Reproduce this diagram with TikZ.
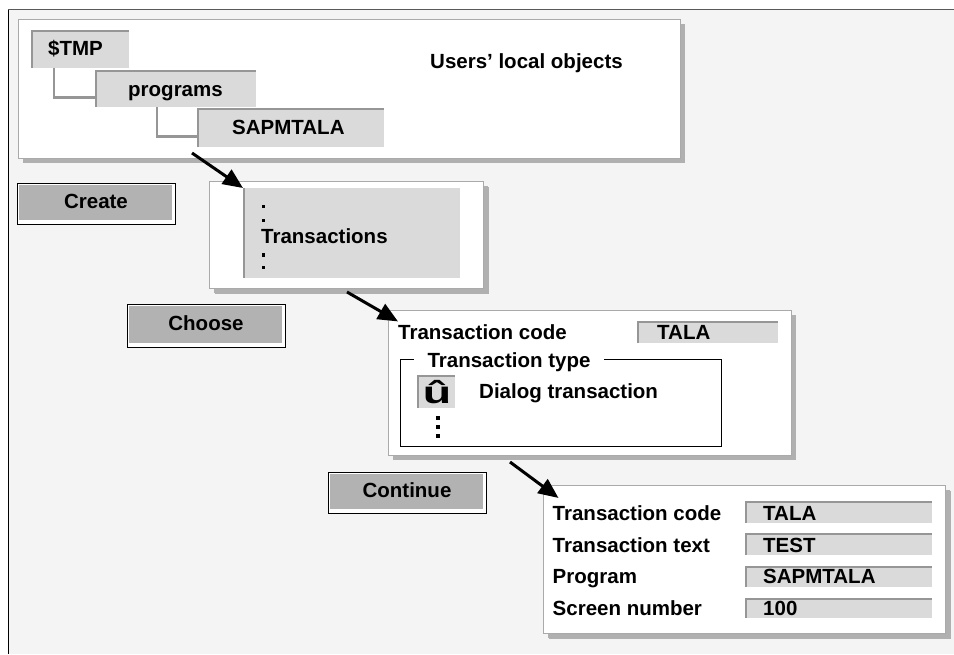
\documentclass[tikz,border=0pt]{standalone}
\usepackage{fontspec}
\setmainfont{Liberation Sans}
\usetikzlibrary{arrows.meta,calc,shadows}

\definecolor{bggray}{RGB}{244,244,244}
\definecolor{fieldgray}{RGB}{218,218,218}
\definecolor{btngray}{RGB}{178,178,178}
\definecolor{shadowgray}{RGB}{176,176,176}
\definecolor{edgegray}{RGB}{170,170,170}
\definecolor{linegray}{RGB}{150,150,150}

\begin{document}
\begin{tikzpicture}[x=1pt,y=-1pt,
  every node/.style={font=\fontsize{20.5}{24}\selectfont\bfseries},
  txt/.style={inner sep=0pt, anchor=base west},
  panel/.style={draw=edgegray, line width=1pt, fill=white, anchor=north west, inner sep=0pt,
    general shadow={fill=shadowgray, shadow xshift=4pt, shadow yshift=-4pt}},
  field/.style={fill=fieldgray, anchor=north west, inner sep=0pt,
    path picture={
      \draw[linegray, line width=4pt] (path picture bounding box.north west) -- (path picture bounding box.north east);
      \draw[linegray, line width=3pt] (path picture bounding box.north west) -- (path picture bounding box.south west);}},
  listfield/.style={fill=fieldgray, anchor=north west, inner sep=0pt,
    path picture={
      \draw[linegray, line width=4pt] (path picture bounding box.north west) -- (path picture bounding box.south west);}},
  button/.style={draw=black, line width=1pt, fill=white, minimum width=158pt, minimum height=41pt,
    inner sep=0pt, text height=15pt, text depth=6pt,
    path picture={
      \fill[btngray] ([shift={(2pt,-2pt)}]path picture bounding box.north west)
        rectangle ([shift={(-3pt,4pt)}]path picture bounding box.south east);}},
  tree/.style={linegray, line width=2.5pt},
  arr/.style={black, line width=3pt, -{Triangle[length=20pt,width=17pt]}},
  dot/.style={black}
]
\useasboundingbox (0,0) rectangle (954,654);

% screen background and frame
\fill[bggray] (9,9.5) rectangle (954,654);
\draw[black, line width=1.5pt] (8.5,9) -- (8.5,654);
\draw[black!65, line width=1pt] (8,9) -- (954,9);

% panels
\node[panel, minimum width=662pt, minimum height=139pt] (topbox) at (18,19) {};
\node[panel, minimum width=274pt, minimum height=107pt, general shadow={fill=shadowgray, shadow xshift=5pt, shadow yshift=-5pt}] (trbox) at (209,181) {};
\node[panel, minimum width=403pt, minimum height=145pt] (midbox) at (388,310) {};
\node[panel, minimum width=402pt, minimum height=148pt, general shadow={fill=shadowgray, shadow xshift=5pt, shadow yshift=-5pt}] (botbox) at (543,485) {};

% object tree
\node[field, minimum width=98pt, minimum height=38pt] (tmp) at (31,30) {};
\node[field, minimum width=161pt, minimum height=37pt] (prog) at (95,70) {};
\node[field, minimum width=187pt, minimum height=39pt] (sapm) at (197,108) {};
\draw[tree] ([xshift=23pt]tmp.south west) |- ([yshift=10pt]prog.south west);
\draw[tree] ([xshift=62pt]prog.south west) |- ([yshift=11pt]sapm.south west);
\node[txt] (ttmp) at (48,55) {\$TMP};
\node[txt] (tprog) at (128,96) {programs};
\node[txt] (tsapm) at (232,134.5) {SAPMTALA};
\node[txt] (tusers) at (430,68.5) {Users’ local objects};

% object list, with ellipsis dots above and below the entry
\node[listfield, minimum width=217pt, minimum height=90pt] (trf) at (243,188) {};
\foreach \yy in {206.7,220.3,255,267.3}
  \fill[dot] (263.3,\yy) ++(-1.7,-1.7) rectangle ++(3.4,3.4);
\node[txt] (ttrans) at (261,243) {Transactions};

% transaction type dialog
\node[txt] (mcode) at (398,339.5) {Transaction code};
\node[field, minimum width=141pt, minimum height=22pt] (mtala) at (637,321) {};
\node[txt] (tmtala) at (657,339.5) {TALA};
\node[draw=black, line width=1pt, anchor=north west, minimum width=321pt, minimum height=87pt, inner sep=0pt] (tgroup) at (400,359) {};
\node[fill=white, inner xsep=14pt, inner ysep=0pt, anchor=base] (ttype) at (509,367) {Transaction type};
\node[field, minimum width=38pt, minimum height=33pt] (ubox) at (417,375) {};
\node[inner sep=0pt, anchor=base, font=\fontsize{31}{31}\selectfont\bfseries] (check) at (437,403) {\scalebox{1.5}[1]{û}};
\node[txt] (tdialog) at (479,398.5) {Dialog transaction};
\foreach \yy in {418,427,436}
  \fill[dot] (438,\yy) ++(-1.7,-1.7) rectangle ++(3.4,3.4);

% transaction attributes
\node[txt] (bcode) at (552.5,520) {Transaction code};
\node[txt] (btext) at (552.5,552) {Transaction text};
\node[txt] (bprog) at (552.5,583.5) {Program};
\node[txt] (bscreen) at (552.5,615) {Screen number};
\node[field, minimum width=187pt, minimum height=22pt] (f1) at (745,501) {};
\node[field, minimum width=187pt, minimum height=22pt] (f2) at (745,533) {};
\node[field, minimum width=187pt, minimum height=21pt] (f3) at (745,566) {};
\node[field, minimum width=187pt, minimum height=20pt] (f4) at (745,598) {};
\node[txt] (tf1) at (763,520) {TALA};
\node[txt] (tf2) at (763,552) {TEST};
\node[txt] (tf3) at (763,583.5) {SAPMTALA};
\node[txt] (tf4) at (763,615) {100};

% push buttons
\node[button] (create) at (96,203.5) {Create};
\node[button, minimum height=43pt] (choose) at (206,325.5) {Choose};
\node[button] (continue) at (407,492.5) {Continue};

% flow arrows
\coordinate (s1) at (192,153);
\coordinate (s2) at (347,292);
\coordinate (s3) at (510,462);
\draw[arr] (s1) -- (trf.north west);
\draw[arr] (s2) -- ([shift={(0pt,3pt)}]mcode.north west);
\draw[arr] (s3) -- ([shift={(6pt,7pt)}]bcode.north west);
\end{tikzpicture}
\end{document}
